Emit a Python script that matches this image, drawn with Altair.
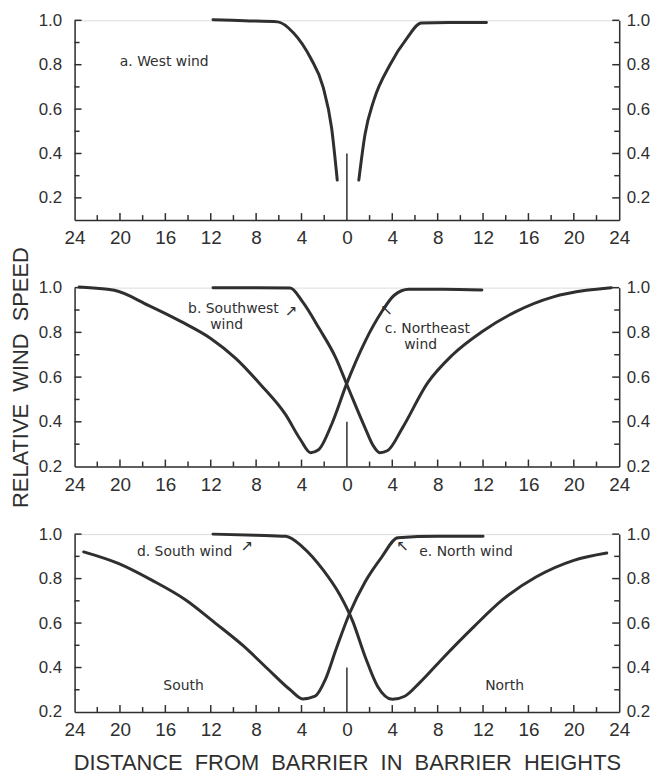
import altair as alt
import pandas as pd

# ---------------- data ----------------
# Panel a: west wind
a_lee_x = [-11.8, -9.0, -6.1, -4.7, -3.2, -2.1, -1.35, -0.85]
a_lee_y = [1.003, 0.998, 0.993, 0.943, 0.83, 0.70, 0.516, 0.28]
a_win_x = [1.05, 1.6, 2.35, 3.8, 5.3, 6.55, 9.0, 12.3]
a_win_y = [0.28, 0.487, 0.636, 0.80, 0.92, 0.988, 0.99, 0.99]

# Panel b/c: southwest and northeast wind
sw_x = [-11.8, -8.0, -5.0, -3.9, -2.45, -0.97, 0.13, 1.6, 2.3, 2.9, 3.6, 4.9, 7.1, 9.3, 11.9, 14.85, 18.2, 21.1, 23.3]
sw_y = [1.0, 1.0, 0.998, 0.936, 0.818, 0.685, 0.55, 0.373, 0.295, 0.262, 0.272, 0.373, 0.573, 0.699, 0.803, 0.892, 0.959, 0.988, 1.0]
ne_x = [-23.6, -20.5, -17.5, -14.6, -12.0, -9.8, -7.6, -5.4, -4.1, -3.2, -2.5, -1.35, 0.0, 1.6, 3.07, 4.17, 5.46, 8.5, 11.9]
ne_y = [1.003, 0.988, 0.921, 0.848, 0.773, 0.684, 0.566, 0.432, 0.321, 0.262, 0.275, 0.388, 0.573, 0.759, 0.892, 0.966, 0.993, 0.993, 0.99]

# Panel d/e: south and north wind
s_x = [-11.8, -8.0, -5.4, -3.9, -2.08, -0.6, 0.5, 1.6, 2.7, 4.0, 5.1, 6.4, 8.6, 11.2, 13.7, 16.7, 20.0, 22.9]
s_y = [1.0, 0.995, 0.99, 0.942, 0.838, 0.725, 0.61, 0.45, 0.316, 0.257, 0.271, 0.331, 0.45, 0.584, 0.704, 0.808, 0.882, 0.915]
n_x = [-23.2, -20.1, -17.2, -14.2, -11.6, -9.07, -6.9, -5.0, -3.9, -2.8, -1.9, -0.97, 0.24, 1.6, 3.07, 4.5, 8.0, 12.0]
n_y = [0.92, 0.867, 0.793, 0.704, 0.60, 0.495, 0.39, 0.30, 0.259, 0.271, 0.346, 0.48, 0.644, 0.785, 0.897, 0.984, 0.99, 0.99]

# axes
x_label_values = [-24, -20, -16, -12, -8, -4, 0, 4, 8, 12, 16, 20, 24]
x_major_ticks = [-20, -16, -12, -8, -4, 4, 8, 12, 16, 20]
x_minor_ticks = [-22, -18, -14, -10, -6, -2, 2, 6, 10, 14, 18, 22]
y_label_values = [0.2, 0.4, 0.6, 0.8, 1.0]
y_minor_ticks = [0.3, 0.5, 0.7, 0.9]
barrier_top = 0.4

GAP = "\u00a0\u00a0"
y_title = GAP.join(["RELATIVE", "WIND", "SPEED"])
x_title = GAP.join(["DISTANCE", "FROM", "BARRIER", "IN", "BARRIER", "HEIGHTS"])

# annotations: (text, x, y)
notes_a = [("a. West wind", -16.1, 0.81)]
notes_b = [("b. Southwest", -10.0, 0.905), ("wind", -10.6, 0.835),
           ("c. Northeast", 7.1, 0.815), ("wind", 6.5, 0.745)]
arrows_b = [("↗", -4.9, 0.897), ("↖", 3.5, 0.9)]
notes_c = [("d. South wind", -14.3, 0.92), ("e. North wind", 10.5, 0.92),
           ("South", -14.4, 0.316), ("North", 13.9, 0.316)]
arrows_c = [("↗", -8.8, 0.946), ("↖", 4.9, 0.946)]

# ---------------- styling ----------------
INK = "#2f2f2f"
TICK_FONT = "Liberation Sans"
NOTE_FONT = "DejaVu Sans"
W = 548
MAJ, MIN = 7, 5

xs = alt.Scale(domain=[-24, 24], nice=False, zero=False)


def x_axis(title=None):
    kw = dict(values=x_label_values, labelExpr="'' + abs(datum.value)", ticks=False, tickSize=0,
              grid=False, domain=True, domainColor=INK, domainWidth=1.5, labelFont=TICK_FONT,
              labelFontSize=19, labelColor=INK, labelPadding=9, labelFlush=False, labelOverlap=False)
    if title:
        kw.update(title=title, titleFont=TICK_FONT, titleFontSize=22, titleFontWeight="normal",
                  titleColor=INK, titlePadding=13)
    else:
        kw.update(title=None)
    return alt.Axis(**kw)


def y_axis(orient, title=None):
    kw = dict(orient=orient, values=y_label_values, format=".1f", ticks=False, tickSize=0, grid=False,
              domain=True, domainColor=INK, domainWidth=1.5, labelFont=TICK_FONT, labelFontSize=17,
              labelColor=INK, labelPadding=13 if orient == "left" else 7, labelOverlap=False)
    if title:
        kw.update(title=title, titleFont=TICK_FONT, titleFontSize=22, titleFontWeight="normal",
                  titleColor=INK, titlePadding=6)
    else:
        kw.update(title=None)
    return alt.Axis(**kw)


def panel(series, lo, notes, arrows, height, xtitle=None, ytitle=None):
    ys = alt.Scale(domain=[lo, 1.0], nice=False, zero=False)
    xa = x_axis(xtitle)
    ya = y_axis("left", ytitle)
    X = lambda f: alt.X(f, type="quantitative", scale=xs, axis=xa)
    Y = lambda f: alt.Y(f, type="quantitative", scale=ys, axis=ya)

    rows = []
    for name, xv, yv in series:
        for a, b in zip(xv, yv):
            rows.append({"series": name, "x": a, "y": b})
    lines = alt.Chart(pd.DataFrame(rows)).mark_line(
        interpolate="monotone", strokeWidth=3, color=INK, strokeCap="round"
    ).encode(x=X("x"), y=Y("y"), detail="series:N")

    barrier = alt.Chart(pd.DataFrame({"x": [0], "y": [lo], "y2": [barrier_top]})).mark_rule(
        color=INK, strokeWidth=1.5).encode(x=X("x"), y=Y("y"), y2="y2")

    xmaj = alt.Chart(pd.DataFrame({"x": x_major_ticks})).mark_rule(color=INK, strokeWidth=1.5).encode(
        x=X("x"), y=alt.value(height), y2=alt.value(height - MAJ))
    xmin = alt.Chart(pd.DataFrame({"x": x_minor_ticks})).mark_rule(color=INK, strokeWidth=1.5).encode(
        x=X("x"), y=alt.value(height), y2=alt.value(height - MIN))

    ymaj_df = pd.DataFrame({"y": [v for v in y_label_values if v > lo]})
    ymin_df = pd.DataFrame({"y": [v for v in y_minor_ticks if v > lo]})
    lmaj = alt.Chart(ymaj_df).mark_rule(color=INK, strokeWidth=1.5).encode(
        y=Y("y"), x=alt.value(0), x2=alt.value(MAJ))
    lmin = alt.Chart(ymin_df).mark_rule(color=INK, strokeWidth=1.5).encode(
        y=Y("y"), x=alt.value(0), x2=alt.value(MIN))

    layers = [lines, barrier, xmaj, xmin, lmaj, lmin]
    text = alt.Chart(pd.DataFrame(notes, columns=["t", "x", "y"])).mark_text(
        font=NOTE_FONT, fontSize=14, color=INK, align="center", baseline="middle"
    ).encode(x=X("x"), y=Y("y"), text="t:N")
    layers.append(text)
    if arrows:
        arr = alt.Chart(pd.DataFrame(arrows, columns=["t", "x", "y"])).mark_text(
            font=NOTE_FONT, fontSize=15, color=INK, align="center", baseline="middle"
        ).encode(x=X("x"), y=Y("y"), text="t:N")
        layers.append(arr)

    left = alt.layer(*layers)

    ra = y_axis("right")
    rmaj = alt.Chart(ymaj_df).mark_rule(color=INK, strokeWidth=1.5).encode(
        y=alt.Y("y:Q", scale=ys, axis=ra), x=alt.value(W), x2=alt.value(W - MAJ))
    rmin = alt.Chart(ymin_df).mark_rule(color=INK, strokeWidth=1.5).encode(
        y=alt.Y("y:Q", scale=ys, axis=ra), x=alt.value(W), x2=alt.value(W - MIN))
    right = alt.layer(rmaj, rmin)

    return alt.layer(left, right).resolve_scale(y="independent").properties(width=W, height=height)


top = panel([("lee", a_lee_x, a_lee_y), ("win", a_win_x, a_win_y)], 0.1, notes_a, None, 201)
mid = panel([("sw", sw_x, sw_y), ("ne", ne_x, ne_y)], 0.2, notes_b, arrows_b, 180, ytitle=y_title)
bot = panel([("s", s_x, s_y), ("n", n_x, n_y)], 0.2, notes_c, arrows_c, 179, xtitle=x_title)

chart = alt.vconcat(top, mid, bot, spacing=68, bounds="flush").properties(
    padding={"left": 0, "top": 0, "right": 0, "bottom": 0}
).configure_view(stroke="transparent").configure(background="white")

chart.save("out.html", embed_options={"renderer": "svg", "actions": False})
